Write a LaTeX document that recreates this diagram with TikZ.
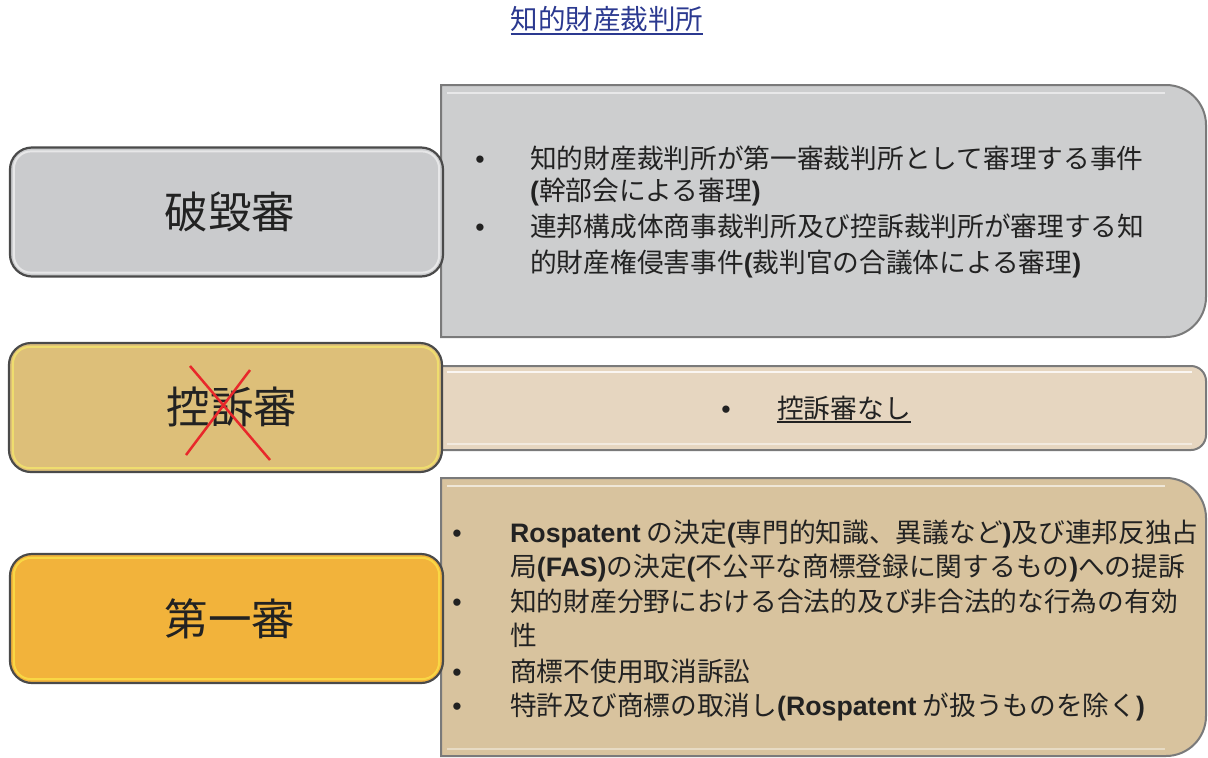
\documentclass[tikz,border=0pt]{standalone}
\usepackage{fontspec}
\setmainfont{Noto Sans CJK JP}
\newfontfamily\arialf{Liberation Sans}
\newcommand{\bo}{{\arialf\bfseries(}}
\newcommand{\bc}{{\arialf\bfseries)}}
\newcommand{\rsp}{{\arialf\bfseries Rospatent}}
\definecolor{titleblue}{HTML}{2B3990}
\definecolor{gray1}{HTML}{CACBCD}
\definecolor{gray1r}{HTML}{CDCECF}
\definecolor{tan2}{HTML}{DDBF79}
\definecolor{beige2r}{HTML}{E6D6C0}
\definecolor{orange3}{HTML}{F2B33B}
\definecolor{tan3r}{HTML}{D8C39E}
\definecolor{edgedark}{HTML}{4A4A4A}
\definecolor{edgegray}{HTML}{7A7A7A}
\definecolor{txt}{HTML}{222222}
\definecolor{xred}{HTML}{E8282B}
\tikzset{
  leftbox/.style={draw=edgedark, line width=2.2pt, rounded corners=22pt, minimum width=433pt, minimum height=129pt, inner sep=0pt, text=txt},
  lefttext/.style={inner sep=0pt, font=\fontsize{43.5}{50}\selectfont, text=txt},
  rightbox/.style={draw=edgegray, line width=2pt},
  glow/.style={draw=white, line width=2pt, opacity=0.55},
  line/.style={anchor=base west, inner sep=0pt, font=\fontsize{26.7}{32}\selectfont, text=txt},
  bul/.style={anchor=base, inner sep=0pt, font=\arialf\fontsize{26.7}{32}\selectfont, text=txt},
}
\begin{document}
\begin{tikzpicture}[x=1pt,y=-1pt]
\useasboundingbox (0,0) rectangle (1208,758);
\fill[white] (0,0) rectangle (1208,758);

% title
\node[inner sep=0pt, anchor=center, font=\fontsize{27.5}{32}\selectfont, text=titleblue] (title) at (607,19) {知的財産裁判所};
\draw[titleblue, line width=1.8pt] (title.south west |- 0,34) -- (title.south east |- 0,34);

% right boxes
\draw[rightbox, fill=gray1r] (441,85) [rounded corners=40pt] -- (1206,85) -- (1206,337) [sharp corners] -- (441,337) -- cycle;
\draw[glow] (447,93) -- (1165,93);
\draw[rightbox, fill=beige2r] (441,366) [rounded corners=15pt] -- (1206,366) -- (1206,450) [sharp corners] -- (441,450) -- cycle;
\draw[glow, opacity=0.8] (447,372) -- (1192,372);
\draw[glow, opacity=0.5] (447,444) -- (1192,444);
\draw[rightbox, fill=tan3r] (441,478) [rounded corners=40pt] -- (1206,478) -- (1206,756) [sharp corners] -- (441,756) -- cycle;
\draw[glow, opacity=0.6] (447,486) -- (1165,486);
\draw[glow, opacity=0.4] (447,749) -- (1165,749);

% left boxes
\node[leftbox, fill=gray1] (l1) at (226.5,212) {};
\node[leftbox, fill=tan2] (l2) at (225.5,407.5) {};
\node[leftbox, fill=orange3] (l3) at (226.5,618.5) {};
\draw[glow, rounded corners=17pt] ([shift={(5,-5)}]l1.south west) rectangle ([shift={(-5,5)}]l1.north east);
\draw[glow, draw=yellow!60!white, rounded corners=17pt] ([shift={(5,-5)}]l2.south west) rectangle ([shift={(-5,5)}]l2.north east);
\draw[glow, draw=yellow!70!white, rounded corners=17pt] ([shift={(5,-5)}]l3.south west) rectangle ([shift={(-5,5)}]l3.north east);
\node[lefttext] (l1t) at (230,212) {破毀審};
\node[lefttext] (l2t) at (232,407) {控訴審};
\node[lefttext] (l3t) at (230,619) {第一審};
\draw[xred, line width=2.5pt] (190,366) -- (270,460);
\draw[xred, line width=2.5pt] (250,370) -- (186,455);

% box 1 text
\node[bul] (b11) at (480,168) {•};
\node[line] (t11) at (530,168) {知的財産裁判所が第一審裁判所として審理する事件};
\node[line] (t12) at (530,200) {\bo 幹部会による審理\bc};
\node[bul] (b12) at (480,236) {•};
\node[line] (t13) at (530,236) {連邦構成体商事裁判所及び控訴裁判所が審理する知};
\node[line] (t14) at (530,272) {的財産権侵害事件\bo 裁判官の合議体による審理\bc};

% box 2 text
\node[bul] (b21) at (726,418) {•};
\node[line] (t21) at (777,418) {控訴審なし};
\draw[txt, line width=1.3pt] (t21.base west |- 0,422) -- (t21.base east |- 0,422);

% box 3 text
\node[bul] (b31) at (457,542) {•};
\node[line] (t31) at (510,542) {\rsp\ の決定\bo 専門的知識、異議など\bc 及び連邦反独占};
\node[line] (t32) at (510,576) {局{\arialf\bfseries(FAS)}の決定\bo 不公平な商標登録に関するもの\bc への提訴};
\node[bul] (b32) at (457,611) {•};
\node[line] (t33) at (510,611) {知的財産分野における合法的及び非合法的な行為の有効};
\node[line] (t34) at (510,645) {性};
\node[bul] (b33) at (457,681) {•};
\node[line] (t35) at (510,681) {商標不使用取消訴訟};
\node[bul] (b34) at (457,715) {•};
\node[line] (t36) at (510,715) {特許及び商標の取消し\bo\rsp\ が扱うものを除く\bc};
\end{tikzpicture}
\end{document}
